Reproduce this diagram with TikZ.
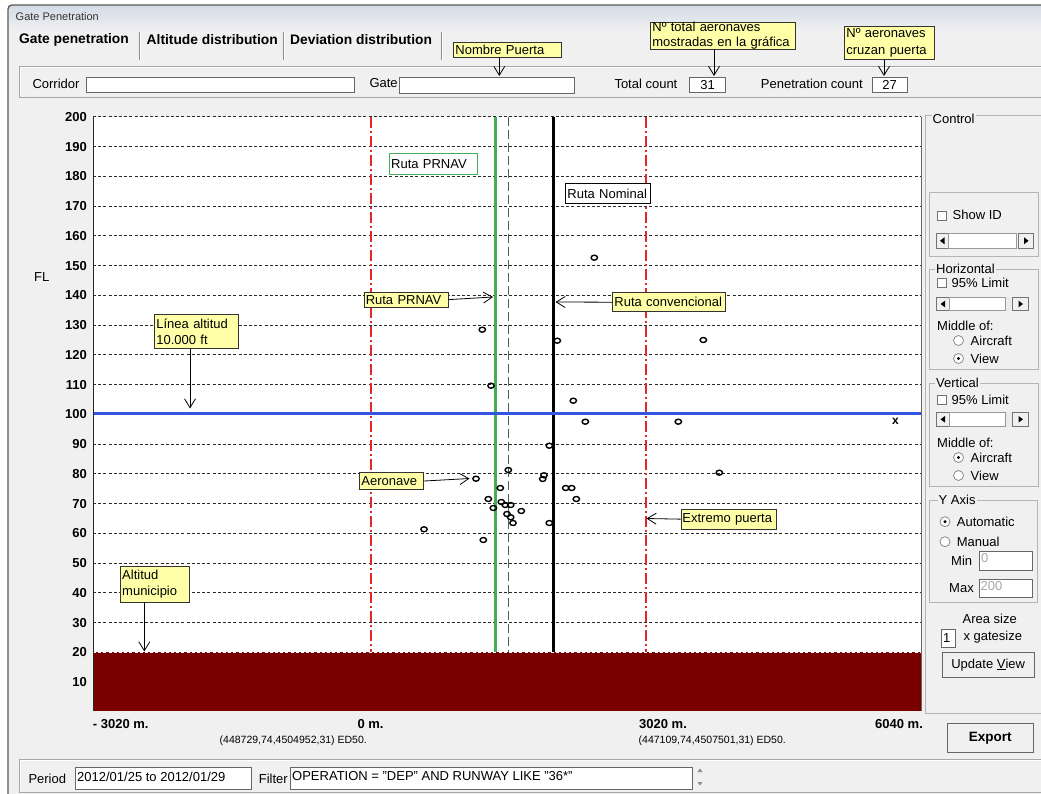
\documentclass[tikz,border=0pt]{standalone}
\usepackage{fontspec}
\setmainfont{Liberation Sans}
\usetikzlibrary{arrows.meta,calc}
\definecolor{win}{HTML}{F0F0F0}
\definecolor{titletop}{HTML}{D3DCE7}
\definecolor{winborder}{HTML}{5A5A5A}
\definecolor{calloutyellow}{HTML}{FFFFA8}
\definecolor{maroonfill}{HTML}{7A0000}
\definecolor{gridc}{HTML}{2A2A2A}
\definecolor{gatered}{HTML}{E02828}
\definecolor{prnavgreen}{HTML}{45AD55}
\definecolor{altblue}{HTML}{3355E0}
\definecolor{framec}{HTML}{B4B4B4}
\definecolor{disabledtxt}{HTML}{A8A8A8}
\tikzset{
  lbl/.style={inner sep=0pt, anchor=west, font=\fontsize{13}{15}\selectfont},
  plbl/.style={inner sep=0pt, anchor=west, font=\fontsize{13}{15}\selectfont},
  tick/.style={inner sep=0pt, anchor=east, font=\fontsize{13}{15}\selectfont\bfseries},
  xlab/.style={inner sep=0pt, anchor=west, font=\fontsize{13}{15}\selectfont\bfseries},
  coordtxt/.style={inner sep=0pt, font=\fontsize{10.5}{12}\selectfont},
  tab/.style={inner sep=0pt, anchor=west, font=\fontsize{13.8}{16}\selectfont\bfseries},
  field/.style={draw=black!60, fill=white, line width=0.8pt, inner sep=0pt, anchor=north west},
  fieldtxt/.style={inner sep=0pt, anchor=west, font=\fontsize{13}{15}\selectfont},
  callout/.style={draw=black!80, fill=calloutyellow, line width=0.8pt, inner xsep=1.5pt, inner ysep=0pt,
    anchor=north west, align=left, font=\fontsize{13}{16}\selectfont},
  note/.style={fill=white, line width=0.9pt, inner xsep=2pt, inner ysep=0pt, anchor=north west,
    align=left, font=\fontsize{13}{15}\selectfont},
  pointer/.style={-{Straight Barb[length=9pt,width=11pt,line width=0.8pt]}, line width=0.8pt, black},
  gridline/.style={gridc, line width=0.8pt, dash pattern=on 3pt off 2.2pt},
  gatelim/.style={gatered, line width=1.1pt, dash pattern=on 11pt off 3pt on 2pt off 3pt},
  ac/.style={black, line width=1.4pt},
  grp/.style={draw=framec, line width=0.9pt},
  grplbl/.style={inner xsep=1pt, inner ysep=0pt, anchor=west, fill=win, font=\fontsize{13}{15}\selectfont},
  chk/.style={draw=black!55, fill=white, line width=0.8pt, minimum size=9pt, inner sep=0pt},
  radio/.style={circle, draw=black!45, fill=white, line width=0.8pt, minimum size=10pt, inner sep=0pt},
  btnface/.style={draw=black!55, fill=win, line width=0.8pt},
  thumb/.style={draw=black!40, fill=white, line width=0.8pt},
  etch/.style={draw=black!35, line width=0.9pt},
  button/.style={draw=black!60, fill=win, line width=0.9pt, inner sep=0pt, anchor=north west},
}
\begin{document}
\begin{tikzpicture}[x=1pt,y=-1pt]
\useasboundingbox (0,0) rectangle (1041,794);
\fill[white] (0,0) rectangle (1041,794);
% window
\fill[win] (8,5) rectangle (1041,794);
\shade[top color=titletop, bottom color=win] (8.5,5.5) rectangle (1041,31);
\draw[winborder, line width=1.3pt, rounded corners=4pt] (8,794) -- (8,5) -- (1045,5);
\node[inner sep=0pt, anchor=west, font=\fontsize{11}{12}\selectfont, text=black!80] (title) at (15.5,17) {Gate Penetration};

% tabs
\node[tab] (tab1) at (19,40) {Gate penetration};
\node[tab] (tab2) at (146.5,40) {Altitude distribution};
\node[tab] (tab3) at (290,40) {Deviation distribution};
\foreach \sx in {139.3,283,441}{
  \draw[black!45, line width=0.9pt] (\sx,31.7) -- (\sx,60);
  \draw[white, line width=0.8pt] (\sx+1.2,31.7) -- (\sx+1.2,60);
}

% header panel
\draw[etch] (1045,66.7) -- (19.3,66.7) -- (19.3,97.3) -- (1045,97.3);
\draw[white, line width=0.8pt] (1045,67.8) -- (20.4,67.8) -- (20.4,96.2);
\node[lbl] (lCorr) at (32.3,83.5) {Corridor};
\node[field, minimum width=268.3pt, minimum height=15.6pt] (fCorr) at (86,76.7) {};
\node[lbl] (lGate) at (369.3,83.5) {Gate};
\node[field, minimum width=175pt, minimum height=16pt] (fGate) at (399.3,76.7) {};
\node[lbl] (lTot) at (614.3,84) {Total count};
\node[field, minimum width=35.7pt, minimum height=14.7pt, font=\fontsize{13}{15}\selectfont] (fTot) at (689.3,77.3) {31};
\node[lbl] (lPen) at (760.7,84) {Penetration count};
\node[field, minimum width=35pt, minimum height=14.7pt, font=\fontsize{13}{15}\selectfont] (fPen) at (871.7,77.3) {27};

% header callouts
\node[callout, minimum width=108pt, minimum height=15.6pt, text width=104pt] (cNP) at (453,41.7) {Nombre Puerta};
\coordinate (aNP) at (499.3,76);
\draw[pointer] (cNP.south -| aNP) -- (aNP);
\node[callout, minimum width=145pt, minimum height=26.6pt, text width=141pt, font=\fontsize{13}{15}\selectfont] (cTot) at (650,21.7) {Nº total aeronaves\\mostradas en la gráfica};
\coordinate (aTot) at (714,76);
\draw[pointer] (cTot.south -| aTot) -- (aTot);
\node[callout, minimum width=90pt, minimum height=33.6pt, text width=86pt, font=\fontsize{13}{17}\selectfont] (cPen) at (844,25.7) {Nº aeronaves\\cruzan puerta};
\coordinate (aPen) at (884,76);
\draw[pointer] (cPen.south -| aPen) -- (aPen);

% ---------- plot ----------
\fill[white] (93,116.7) rectangle (921,711);
\foreach \f in {30,40,...,190}{
  \draw[gridline] (93,{711.8-2.975*\f}) -- (921,{711.8-2.975*\f});
}
\draw[gridline] (93,116.7) -- (921,116.7);
\foreach \f in {10,20,...,200}{
  \node[tick] (t\f) at (87,{711.8-2.975*\f}) {\f};
}
\node[plbl] (lFL) at (34,277) {FL};

% gate limits and routes
\draw[gatelim] (371,117) -- (371,652);
\draw[gatelim] (646,117) -- (646,652);
\draw[black!65, line width=0.9pt, dash pattern=on 9pt off 4pt] (508,117) -- (508,652);
\draw[prnavgreen, line width=3pt] (495.5,117) -- (495.5,652);
\draw[black, line width=3pt] (553.3,117) -- (553.3,652);

% terrain
\fill[maroonfill] (93,652.3) rectangle (921,711);
\draw[white, line width=0.8pt, dash pattern=on 3pt off 2.2pt] (93,652.3) -- (921,652.3);

% altitude line
\draw[altblue, line width=3pt] (93,413.3) -- (921,413.3);

% plot frame
\draw[black!85, line width=1pt] (93,116.7) -- (93,711);
\draw[black!60, line width=1pt] (921,116.7) -- (921,711);

% aircraft
\foreach \px/\py in {594.3/257.7, 482.3/329.7, 557.3/340.7, 491/385.7, 573.3/400.7, 585.3/421.7,
  678.3/421.7, 549.3/445.7, 703.3/340, 719.3/472.7, 508.3/470, 476/478.7, 544/475.3, 542.7/479,
  500.3/488, 565.7/488, 571.7/488, 576.3/499, 488.3/499, 501.3/502, 505.3/505, 510.7/505,
  493.3/508, 521.3/511, 507/514, 510.7/517.3, 513/523, 549.3/523, 424/529.3, 483.3/540}{
  \draw[ac] (\px,\py) ellipse [x radius=3.2pt, y radius=2.5pt];
}
\node[inner sep=0pt, font=\fontsize{12}{13}\selectfont\bfseries] (xmark) at (895.5,421.5) {x};

% axis labels
\node[xlab] (x1) at (92.7,724.3) {- 3020 m.};
\node[xlab] (x2) at (357.3,724.3) {0 m.};
\node[xlab] (x3) at (639,724.3) {3020 m.};
\node[xlab] (x4) at (875,724.3) {6040 m.};
\node[coordtxt, anchor=east] (co1) at (367,741) {(448729,74,4504952,31) ED50.};
\node[coordtxt, anchor=west] (co2) at (638.5,741) {(447109,74,4507501,31) ED50.};

% in-plot notes
\node[note, draw=prnavgreen, minimum width=88.3pt, minimum height=21.3pt, text width=84.3pt] (nPR) at (388.7,152.7) {Ruta PRNAV};
\node[note, draw=black, minimum width=85pt, minimum height=20.6pt, text width=81pt] (nNom) at (565,182.7) {Ruta Nominal};

% plot callouts
\node[callout, minimum width=84.3pt, minimum height=15pt, text width=81pt] (cRP) at (363.7,291.7) {Ruta PRNAV};
\coordinate (aRP) at (493,297);
\draw[pointer] (cRP.east) -- (aRP);
\node[callout, minimum width=112.4pt, minimum height=19pt, text width=109pt] (cRC) at (612.3,292.3) {Ruta convencional};
\coordinate (aRC) at (555.5,302);
\draw[pointer] (cRC.west) -- (aRC);
\node[callout, minimum width=83.4pt, minimum height=33.4pt, text width=80pt] (cLA) at (154.3,314.3) {Línea altitud\\10.000 ft};
\coordinate (aLA) at (190,408.5);
\draw[pointer] (cLA.south -| aLA) -- (aLA);
\node[callout, minimum width=63.4pt, minimum height=16.7pt, text width=60pt] (cAe) at (359.3,472.3) {Aeronave};
\coordinate (aAe) at (469.5,478.5);
\draw[pointer] (cAe.east) -- (aAe);
\node[callout, minimum width=95pt, minimum height=20.5pt, text width=92pt] (cEx) at (680.5,508.5) {Extremo puerta};
\coordinate (aEx) at (646.5,518.5);
\draw[pointer] (cEx.west) -- (aEx);
\node[callout, minimum width=69pt, minimum height=35.7pt, text width=66pt] (cAM) at (120.3,566) {Altitud\\municipio};
\coordinate (aAM) at (144.3,651.5);
\draw[pointer] (cAM.south -| aAM) -- (aAM);

% ---------- right control panel ----------
\draw[grp] (1045,115) -- (925.8,115) -- (925.8,713) -- (1045,713);
\node[grplbl] (gCtl) at (931.5,119) {Control};

% Show ID group
\draw[grp] (929.3,192.7) rectangle (1038.3,256.7);
\node[chk] (kShow) at (942,215.5) {};
\node[plbl] (lShow) at (952.5,214.5) {Show ID};
\draw[btnface] (936.5,233.5) rectangle (948.5,248);
\fill (940,240.8) -- (944.5,237.3) -- (944.5,244.3) -- cycle;
\draw[thumb] (948.5,233.5) rectangle (1016.8,248);
\draw[btnface] (1018.2,233.5) rectangle (1033.5,248);
\fill (1028.5,240.8) -- (1024,237.3) -- (1024,244.3) -- cycle;

% Horizontal group
\draw[grp] (929.3,269) rectangle (1038.3,369.3);
\node[grplbl] (gHor) at (935,269) {Horizontal};
\node[chk] (kHor) at (942,283) {};
\node[plbl] (lHor) at (951.5,283) {95\% Limit};
\draw[btnface] (936.5,297.3) rectangle (949.5,310.7);
\fill (940.5,304) -- (945,300.7) -- (945,307.3) -- cycle;
\fill[black!8] (949.5,297.3) rectangle (1012.5,310.7);
\draw[thumb] (949.5,297.3) rectangle (1005,310.7);
\draw[btnface] (1012.5,297.3) rectangle (1028,310.7);
\fill (1023,304) -- (1018.5,300.7) -- (1018.5,307.3) -- cycle;
\node[plbl] (lMidH) at (937,326) {Middle of:};
\node[radio] (rHA) at (958.5,340.5) {};
\node[plbl] (lHA) at (970.5,340.5) {Aircraft};
\node[radio] (rHV) at (958.5,358.5) {};
\fill (rHV.center) circle (1.7pt);
\node[plbl] (lHV) at (970.5,358.5) {View};

% Vertical group
\draw[grp] (929.3,383) rectangle (1038.3,486.7);
\node[grplbl] (gVer) at (935,383) {Vertical};
\node[chk] (kVer) at (942,399.5) {};
\node[plbl] (lVer) at (951.5,399.5) {95\% Limit};
\draw[btnface] (936.5,412) rectangle (949.5,426.7);
\fill (940.5,419.3) -- (945,416) -- (945,422.6) -- cycle;
\fill[black!8] (949.5,412) rectangle (1012.5,426.7);
\draw[thumb] (949.5,412) rectangle (1005,426.7);
\draw[btnface] (1012.5,412) rectangle (1028,426.7);
\fill (1023,419.3) -- (1018.5,416) -- (1018.5,422.6) -- cycle;
\node[plbl] (lMidV) at (937,442.5) {Middle of:};
\node[radio] (rVA) at (958.5,457.5) {};
\fill (rVA.center) circle (1.7pt);
\node[plbl] (lVA) at (970.5,457.5) {Aircraft};
\node[radio] (rVV) at (958.5,475.5) {};
\node[plbl] (lVV) at (970.5,475.5) {View};

% Y axis group
\draw[grp] (929.3,500) rectangle (1037.3,602.3);
\node[grplbl] (gY) at (937.5,500) {Y Axis};
\node[radio] (rYA) at (945,521.7) {};
\fill (rYA.center) circle (1.7pt);
\node[plbl] (lYA) at (956.7,521.7) {Automatic};
\node[radio] (rYM) at (945,541.7) {};
\node[plbl] (lYM) at (956.7,541.7) {Manual};
\node[plbl] (lMin) at (951,561) {Min};
\node[field, minimum width=53pt, minimum height=18.5pt] (fMin) at (979,551) {};
\node[fieldtxt, text=disabledtxt] (vMin) at (981,558.5) {0};
\node[plbl] (lMax) at (949,588) {Max};
\node[field, minimum width=53pt, minimum height=18pt] (fMax) at (979,578.7) {};
\node[fieldtxt, text=disabledtxt] (vMax) at (980.5,586.5) {200};

% area size
\node[inner sep=0pt, font=\fontsize{13}{15}\selectfont] (lArea) at (989.7,619) {Area size};
\node[field, minimum width=14pt, minimum height=17.4pt] (fArea) at (941,629.3) {};
\node[fieldtxt] (vArea) at (943,638) {1};
\node[plbl] (lGs) at (963.3,637.5) {x gatesize};
\node[button, minimum width=92.5pt, minimum height=25.5pt, font=\fontsize{13}{15}\selectfont] (bUpd) at (941.5,651.5) {Update \underline{V}iew};
\node[button, minimum width=86pt, minimum height=28.4pt, font=\fontsize{13.5}{15}\selectfont\bfseries] (bExp) at (946.7,723.3) {Export};

% ---------- bottom panel ----------
\draw[etch] (1045,759.5) -- (19.3,759.5) -- (19.3,792.5) -- (1045,792.5);
\draw[white, line width=0.8pt] (1045,760.6) -- (20.4,760.6) -- (20.4,791.4);
\node[lbl] (lPer) at (28.3,778.5) {Period};
\node[field, minimum width=175.7pt, minimum height=22.3pt] (fPer) at (75,766.7) {};
\node[fieldtxt] (vPer) at (77,776.5) {2012/01/25 to 2012/01/29};
\node[lbl] (lFil) at (258.7,778.5) {Filter};
\node[field, minimum width=402pt, minimum height=22.3pt] (fFil) at (290,766.7) {};
\node[fieldtxt] (vFil) at (292,776.5) {OPERATION = "DEP" AND RUNWAY LIKE "36*"};
\fill[black!45] (700,768.5) -- (697.5,772) -- (702.5,772) -- cycle;
\fill[black!45] (700,785.5) -- (697.5,782) -- (702.5,782) -- cycle;
\end{tikzpicture}
\end{document}
